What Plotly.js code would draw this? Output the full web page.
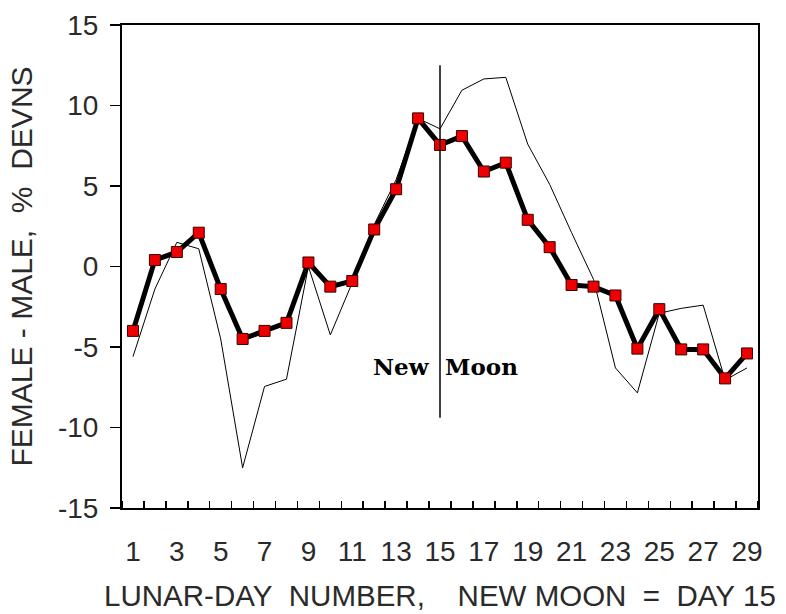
<!DOCTYPE html>
<html>
<head>
<meta charset="utf-8">
<script src="https://cdn.plot.ly/plotly-3.0.1.min.js"></script>
<style>html,body{margin:0;padding:0;background:#fff;}#chart{width:786px;height:614px;}</style>
</head>
<body>
<div id="chart"></div>
<script>
// Lunar day numbers
var days = [1,2,3,4,5,6,7,8,9,10,11,12,13,14,15,16,17,18,19,20,21,22,23,24,25,26,27,28,29];
// Thick series with red square markers (female - male, % deviations)
var mainVals = [-4.0,0.4,0.9,2.1,-1.4,-4.5,-4.0,-3.5,0.25,-1.25,-0.9,2.3,4.8,9.2,7.55,8.1,5.9,6.45,2.9,1.2,-1.15,-1.25,-1.8,-5.1,-2.65,-5.15,-5.15,-6.95,-5.4];
// Thin comparison series
var thinVals = [-5.6,-1.4,1.5,1.1,-4.5,-12.5,-7.45,-7.0,0.0,-4.25,-1.0,2.6,5.4,9.2,8.55,10.95,11.65,11.75,7.6,5.1,2.1,-0.8,-6.3,-7.85,-2.9,-2.6,-2.4,-7.05,-6.3];
var xTickVals = [1,3,5,7,9,11,13,15,17,19,21,23,25,27,29];
var xTickText = ['1','3','5','7','9','11','13','15','17','19','21','23','25','27','29'];
var yTickVals = [-15,-10,-5,0,5,10,15];
var yTickText = ['-15','-10','-5','0','5','10','15'];
var newMoonDay = 15;
var newMoonLine = [-9.4, 12.5];

var sp = '\u00A0';
var xTitle = 'LUNAR-DAY' + sp+sp + 'NUMBER,' + sp+sp+sp+sp + 'NEW' + sp + 'MOON' + sp+sp + '=' + sp+sp + 'DAY' + sp + '15';
var yTitle = 'FEMALE - MALE,' + sp+sp + '%' + sp+sp + 'DEVNS';

var font = 'Liberation Sans, Arial, sans-serif';
var txtColor = '#2a2a2a';

var traces = [
  {x: days, y: thinVals, type: 'scatter', mode: 'lines',
   line: {color: '#000000', width: 1}, hoverinfo: 'skip'},
  {x: days, y: mainVals, type: 'scatter', mode: 'lines+markers',
   line: {color: '#000000', width: 5},
   marker: {symbol: 'square', size: 11, color: '#ee0000', line: {color: '#3a0000', width: 1}}}
];

var layout = {
  width: 786, height: 614,
  margin: {l: 122, r: 28, t: 25, b: 106},
  paper_bgcolor: '#ffffff', plot_bgcolor: '#ffffff',
  showlegend: false,
  font: {family: font, size: 29, color: txtColor},
  xaxis: {
    range: [0.5, 29.5], tickmode: 'array', tickvals: xTickVals, ticktext: xTickText,
    ticks: '', showgrid: false, zeroline: false,
    showline: true, linecolor: '#000000', linewidth: 2, mirror: true,
    ticklabelstandoff: 17,
    tickfont: {family: font, size: 28, color: txtColor},
    minor: {tick0: 0.5, dtick: 1, ticks: 'inside', ticklen: 7, tickwidth: 1.5, tickcolor: '#000000', showgrid: false},
    title: {text: xTitle, font: {family: font, size: 29.5, color: txtColor}, standoff: 20}
  },
  yaxis: {
    range: [-15, 15], tickmode: 'array', tickvals: yTickVals, ticktext: yTickText,
    ticks: 'outside', ticklen: 10, tickwidth: 1.5, tickcolor: '#000000',
    showgrid: false, zeroline: false,
    showline: true, linecolor: '#000000', linewidth: 2, mirror: true,
    ticklabelstandoff: 6,
    tickfont: {family: font, size: 28, color: txtColor},
    title: {text: yTitle, font: {family: font, size: 30, color: txtColor}, standoff: 16}
  },
  shapes: [
    {type: 'line', xref: 'x', yref: 'y', x0: newMoonDay, x1: newMoonDay, y0: newMoonLine[0], y1: newMoonLine[1],
     line: {color: '#000000', width: 1.5}}
  ],
  annotations: [
    {x: newMoonDay, y: -6.2, xref: 'x', yref: 'y', text: '<b>New</b>', showarrow: false,
     xanchor: 'right', yanchor: 'middle', xshift: -8,
     font: {family: 'DejaVu Serif, serif', size: 23, color: '#000000'}},
    {x: newMoonDay, y: -6.2, xref: 'x', yref: 'y', text: '<b>Moon</b>', showarrow: false,
     xanchor: 'left', yanchor: 'middle', xshift: 3,
     font: {family: 'DejaVu Serif, serif', size: 23, color: '#000000'}}
  ]
};

Plotly.newPlot('chart', traces, layout, {displayModeBar: false, staticPlot: true});
</script>
</body>
</html>
